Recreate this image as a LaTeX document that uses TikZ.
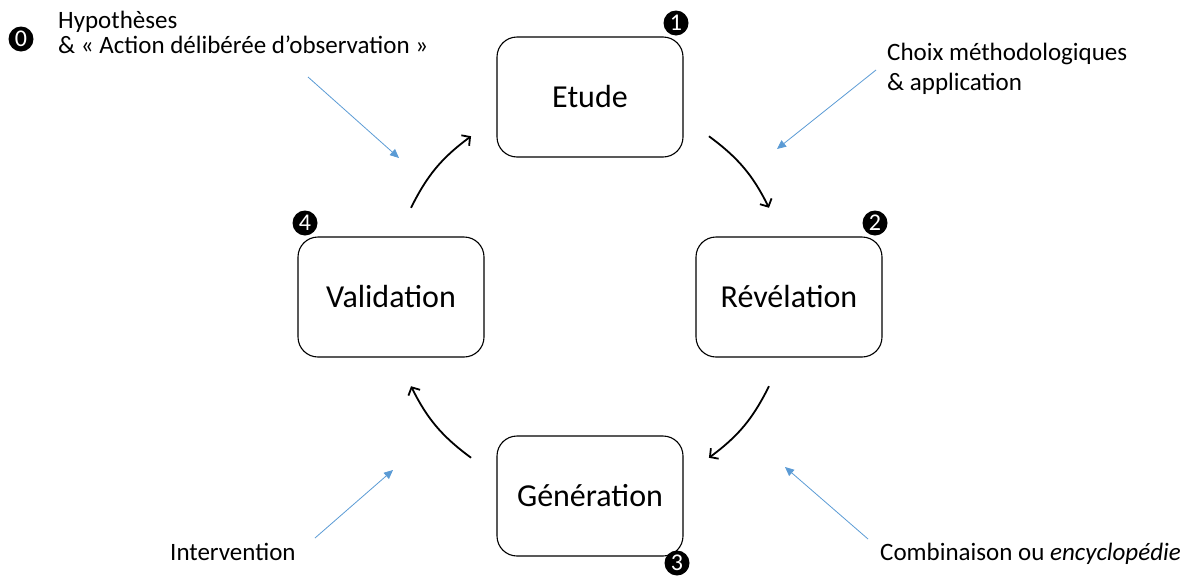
\documentclass[tikz,border=0pt]{standalone}
\usepackage{fontspec}
\setmainfont{Carlito}
\usetikzlibrary{arrows.meta,calc}
\definecolor{hintblue}{HTML}{5B9BD5}
\begin{document}
\begin{tikzpicture}[x=1pt,y=1pt,
 stage/.style={draw, line width=1.1pt, rounded corners=20pt, minimum width=186pt, minimum height=120pt, font=\fontsize{32}{36}\selectfont, inner sep=0pt},
 num/.style={circle, fill=black, text=white, minimum size=25pt, inner sep=0pt, font=\fontsize{24}{24}\selectfont},
 cyc/.style={line width=1.8pt, -{Straight Barb[length=6pt,width=13pt]}},
 hint/.style={draw=hintblue, line width=0.8pt, -{Triangle[length=9pt,width=8pt]}},
 lbl/.style={font=\fontsize{25}{30}\selectfont, inner sep=0pt, anchor=base west}]
\useasboundingbox (0,0) rectangle (1197,-576);
\node[stage] (etude) at (590,-97) {Etude};
\node[stage] (rev) at (789,-297) {Révélation};
\node[stage] (gen) at (590,-496) {Génération};
\node[stage] (val) at (391,-297) {Validation};
\node[num] (n0) at (21,-39) {0};
\node[num] (n1) at (676,-23) {1};
\node[num] (n2) at (875,-223) {2};
\node[num] (n3) at (677,-563) {3};
\node[num] (n4) at (305,-223) {4};
\coordinate (c) at (590,-297);
\coordinate (a1s) at ($(c)+(53.5:200)$);
\coordinate (a1e) at ($(c)+(26.5:200)$);
\coordinate (a2s) at ($(c)+(-26.5:200)$);
\coordinate (a2e) at ($(c)+(-53.5:200)$);
\coordinate (a3s) at ($(c)+(233.5:200)$);
\coordinate (a3e) at ($(c)+(206.5:200)$);
\coordinate (a4s) at ($(c)+(153.5:200)$);
\coordinate (a4e) at ($(c)+(126.5:200)$);
\draw[cyc] (a1s) to[bend left=13.5] (a1e);
\draw[cyc] (a2s) to[bend left=13.5] (a2e);
\draw[cyc] (a3s) to[bend left=13.5] (a3e);
\draw[cyc] (a4s) to[bend left=13.5] (a4e);
\node[lbl] (t0a) at (58,-28) {Hypothèses};
\node[lbl] (t0b) at (58,-53) {\& « Action délibérée d’observation »};
\node[lbl] (t1a) at (887,-60) {Choix méthodologiques};
\node[lbl] (t1b) at (887,-90) {\& application};
\node[lbl] (t3) at (170,-560) {Intervention};
\node[lbl] (t2) at (880,-560) {Combinaison ou \textit{encyclopédie}};
\coordinate (h0s) at (308,-77);
\coordinate (h0e) at (399,-158);
\coordinate (h1s) at (876,-70);
\coordinate (h1e) at (777,-149);
\coordinate (h3s) at (315,-538);
\coordinate (h3e) at (393,-470);
\coordinate (h2s) at (868,-539);
\coordinate (h2e) at (785,-467);
\draw[hint] (h0s) -- (h0e);
\draw[hint] (h1s) -- (h1e);
\draw[hint] (h3s) -- (h3e);
\draw[hint] (h2s) -- (h2e);
\end{tikzpicture}
\end{document}
